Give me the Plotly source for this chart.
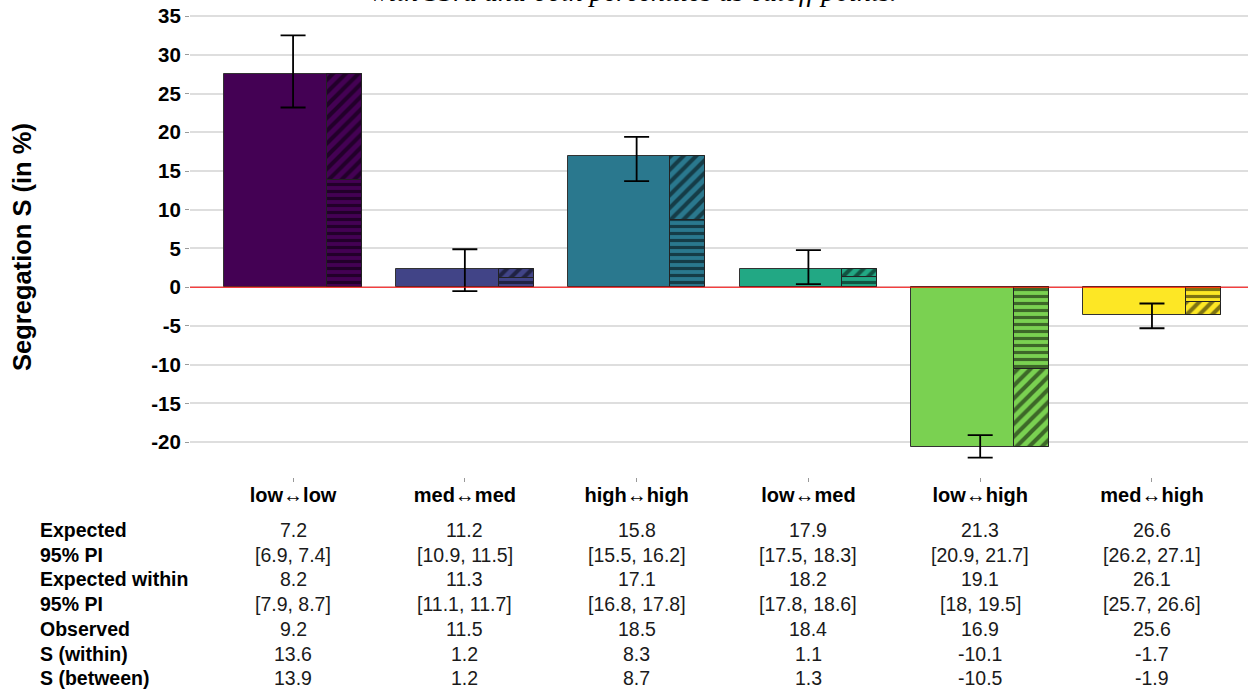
import plotly.graph_objects as go

# Pair categories (x axis)
categories = ["low↔low", "med↔med", "high↔high", "low↔med", "low↔high", "med↔high"]
colors = ["#440154", "#414487", "#2A788E", "#22A884", "#7AD151", "#FDE725"]

# Segregation components (in %)
s_within = [13.6, 1.2, 8.3, 1.1, -10.1, -1.7]
s_between = [13.9, 1.2, 8.7, 1.3, -10.5, -1.9]
s_total = [27.5, 2.4, 17.0, 2.4, -20.6, -3.6]

# Interval for the total segregation
ci_low = [23.2, -0.5, 13.7, 0.4, -22.0, -5.3]
ci_high = [32.5, 4.9, 19.4, 4.8, -19.1, -2.1]

# Y-axis ticks
y_ticks = [-20, -15, -10, -5, 0, 5, 10, 15, 20, 25, 30, 35]

# Table rows below the chart
row_labels = ["Expected", "95% PI", "Expected within", "95% PI", "Observed", "S (within)", "S (between)"]
expected = ["7.2", "11.2", "15.8", "17.9", "21.3", "26.6"]
expected_pi = ["[6.9, 7.4]", "[10.9, 11.5]", "[15.5, 16.2]", "[17.5, 18.3]", "[20.9, 21.7]", "[26.2, 27.1]"]
expected_within = ["8.2", "11.3", "17.1", "18.2", "19.1", "26.1"]
expected_within_pi = ["[7.9, 8.7]", "[11.1, 11.7]", "[16.8, 17.8]", "[17.8, 18.6]", "[18, 19.5]", "[25.7, 26.6]"]
observed = ["9.2", "11.5", "18.5", "18.4", "16.9", "25.6"]
s_within_txt = ["13.6", "1.2", "8.3", "1.1", "-10.1", "-1.7"]
s_between_txt = ["13.9", "1.2", "8.7", "1.3", "-10.5", "-1.9"]
table_rows = [expected, expected_pi, expected_within, expected_within_pi, observed, s_within_txt, s_between_txt]

subtitle = "with 33rd and 66th percentiles as cutoff points."

FONT = "Liberation Sans, Arial, sans-serif"
xpos = list(range(len(categories)))
BAR_W = 0.8
NARROW_W = 0.204
narrow_x = [i + BAR_W / 2 - NARROW_W / 2 for i in xpos]

fig = go.Figure()

# Full bars: total segregation
fig.add_trace(go.Bar(
    x=xpos, y=s_total, width=BAR_W,
    marker=dict(color=colors, line=dict(color="#333333", width=1)),
    showlegend=False, hoverinfo="skip",
))

# Narrow stacked bars per category: between (horizontal stripes) then within (diagonal hatch)
for i in xpos:
    fig.add_trace(go.Bar(
        x=[narrow_x[i]], y=[s_between[i]], base=[0], width=[NARROW_W],
        marker=dict(color=colors[i], line=dict(color="#222222", width=1),
                    pattern=dict(shape="-", fgcolor="black", bgcolor=colors[i],
                                 size=7, solidity=0.45)),
        showlegend=False, hoverinfo="skip",
    ))
    fig.add_trace(go.Bar(
        x=[narrow_x[i]], y=[s_within[i]], base=[s_between[i]], width=[NARROW_W],
        marker=dict(color=colors[i], line=dict(color="#222222", width=1),
                    pattern=dict(shape="/", fgcolor="black", bgcolor=colors[i],
                                 size=9, solidity=0.45)),
        showlegend=False, hoverinfo="skip",
    ))

# Error bars around the total
fig.add_trace(go.Scatter(
    x=xpos, y=s_total, mode="markers",
    marker=dict(size=0.1, color="rgba(0,0,0,0)"),
    error_y=dict(type="data", symmetric=False,
                 array=[h - t for h, t in zip(ci_high, s_total)],
                 arrayminus=[t - l for t, l in zip(s_total, ci_low)],
                 color="black", thickness=1.8, width=12.5),
    showlegend=False, hoverinfo="skip",
))

annotations = []

# Subtitle line at the very top
annotations.append(dict(
    text=subtitle, xref="paper", yref="paper", x=0.419, y=1, xanchor="center",
    yanchor="bottom", yshift=4, showarrow=False,
    font=dict(family="Liberation Serif, Times New Roman, serif", size=28, color="black", style="italic"),
))

# Y-axis title
annotations.append(dict(
    text="<b>Segregation S (in %)</b>", xref="paper", yref="paper", x=0, y=0.4957,
    xshift=-168, textangle=-90, showarrow=False, xanchor="center", yanchor="middle",
    font=dict(family=FONT, size=25.5, color="black"),
))

# Table below the chart
row_px = [530, 554.5, 579, 604, 629, 654, 678]
plot_bottom = 477
for r, (lab, vals) in enumerate(zip(row_labels, table_rows)):
    shift = -(row_px[r] - plot_bottom)
    annotations.append(dict(
        text=f"<b>{lab}</b>", xref="paper", yref="paper", x=0, y=0, xshift=-152,
        yshift=shift, xanchor="left", yanchor="middle", showarrow=False,
        font=dict(family=FONT, size=19.5, color="black"),
    ))
    for i, v in enumerate(vals):
        annotations.append(dict(
            text=v, xref="x", yref="paper", x=i, y=0, yshift=shift,
            xanchor="center", yanchor="middle", showarrow=False,
            font=dict(family=FONT, size=19.5, color="#1a1a1a"),
        ))

fig.update_layout(
    width=1248, height=690,
    margin=dict(l=190, r=0, t=13, b=213),
    paper_bgcolor="white", plot_bgcolor="white",
    barmode="overlay", bargap=0,
    annotations=annotations,
    shapes=[dict(type="line", xref="paper", x0=0, x1=1, yref="y", y0=0, y1=0,
                 line=dict(color="#FF0000", width=1), layer="above")],
    xaxis=dict(
        range=[-0.6, 5.559], tickvals=xpos, ticktext=[f"<b>{c}</b>" for c in categories],
        showgrid=False, zeroline=False, showline=False,
        ticks="outside", ticklen=4, tickcolor="#999999", tickwidth=1,
        ticklabelstandoff=-4,
        tickfont=dict(family=FONT, size=20, color="black"),
    ),
    yaxis=dict(
        range=[-24.5, 35.4], tickvals=y_ticks, ticktext=[str(t) for t in y_ticks],
        showgrid=True, gridcolor="#DEDEDE", gridwidth=1.5, zeroline=False, showline=False,
        ticks="outside", ticklen=4, tickcolor="#999999", tickwidth=1,
        tickfont=dict(family=FONT, size=20.5, color="black", weight="bold"),
    ),
)

fig.write_html("out.html")
